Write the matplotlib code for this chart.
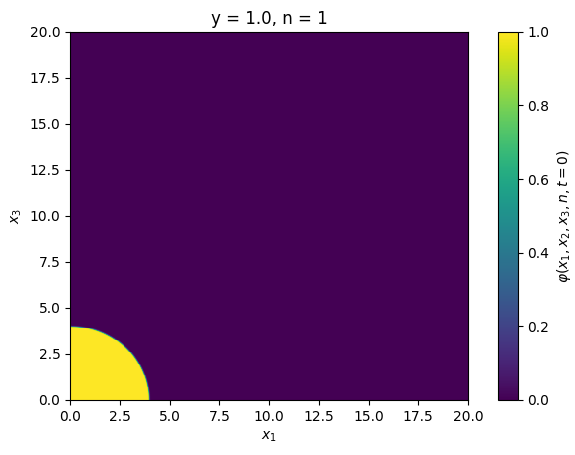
import numpy as np
import matplotlib
matplotlib.use('Agg')
import matplotlib.pyplot as plt

# slice parameters
y_slice = 1.0
n_val = 1
radius = 4.12
interface_width = 0.03
x_min, x_max = 0.0, 20.0
n_grid = 400

x1 = np.linspace(x_min, x_max, n_grid)
x3 = np.linspace(x_min, x_max, n_grid)
X1, X3 = np.meshgrid(x1, x3)
dist = np.sqrt(X1**2 + y_slice**2 + X3**2)
phi = 0.5 * (1 - np.tanh((dist - radius) / interface_width))

fig = plt.figure(figsize=(5.75, 4.55), dpi=100)
ax = fig.add_axes([0.122, 0.121, 0.692, 0.809])
cax = fig.add_axes([0.866, 0.121, 0.034, 0.809])
im = ax.pcolormesh(X1, X3, phi, cmap='viridis', vmin=0, vmax=1, shading='auto')
ax.set_xlim(x_min, x_max)
ax.set_ylim(x_min, x_max)
ax.set_xlabel('$x_1$')
ax.set_ylabel('$x_3$')
ax.set_title(f'y = {y_slice}, n = {n_val}')
cbar = fig.colorbar(im, cax=cax)
cbar.set_label(r'$\varphi(x_1, x_2, x_3, n, t = 0)$')

plt.savefig('out.png', dpi=100)
